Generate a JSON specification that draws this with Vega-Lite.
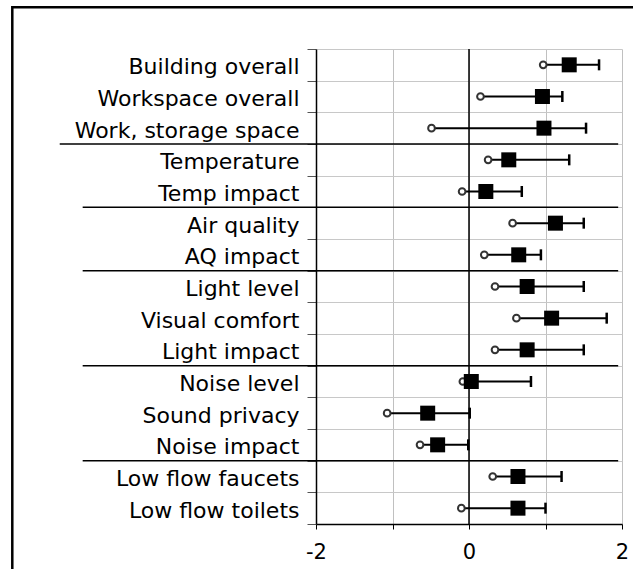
{
  "$schema": "https://vega.github.io/schema/vega-lite/v6.json",
  "width": 306,
  "height": 475,
  "autosize": {"type": "none"},
  "padding": {"left": 316, "top": 49, "right": 11, "bottom": 45},
  "background": "white",
  "config": {"view": {"stroke": null}, "font": "DejaVu Sans"},
  "datasets": {
    "items": [
      {"label": "Building overall", "min": 0.97, "mean": 1.31, "max": 1.70},
      {"label": "Workspace overall", "min": 0.15, "mean": 0.96, "max": 1.22},
      {"label": "Work, storage space", "min": -0.49, "mean": 0.98, "max": 1.53},
      {"label": "Temperature", "min": 0.25, "mean": 0.52, "max": 1.31},
      {"label": "Temp impact", "min": -0.09, "mean": 0.22, "max": 0.69},
      {"label": "Air quality", "min": 0.57, "mean": 1.13, "max": 1.50},
      {"label": "AQ impact", "min": 0.20, "mean": 0.65, "max": 0.94},
      {"label": "Light level", "min": 0.34, "mean": 0.76, "max": 1.50},
      {"label": "Visual comfort", "min": 0.62, "mean": 1.08, "max": 1.80},
      {"label": "Light impact", "min": 0.34, "mean": 0.76, "max": 1.50},
      {"label": "Noise level", "min": -0.08, "mean": 0.03, "max": 0.81},
      {"label": "Sound privacy", "min": -1.07, "mean": -0.54, "max": 0.01},
      {"label": "Noise impact", "min": -0.64, "mean": -0.41, "max": -0.01},
      {"label": "Low flow faucets", "min": 0.31, "mean": 0.64, "max": 1.21},
      {"label": "Low flow toilets", "min": -0.10, "mean": 0.64, "max": 1.00}
    ],
    "sepFirst": [{"label": "Work, storage space"}],
    "seps": [{"label": "Temp impact"}, {"label": "AQ impact"}, {"label": "Light impact"}, {"label": "Noise impact"}]
  },
  "resolve": {"scale": {"y": "independent"}},
  "layer": [
    {
      "data": {"values": [{}]},
      "mark": {"type": "rect", "filled": false, "stroke": "black", "strokeWidth": 2.5},
      "encoding": {
        "x": {"datum": -5.97, "type": "quantitative", "scale": {"domain": [-2, 2]}},
        "x2": {"datum": 6},
        "y": {"datum": 1.088, "type": "quantitative", "scale": {"domain": [0, 1]}, "axis": null},
        "y2": {"datum": -0.3}
      }
    },
    {
      "encoding": {
        "y": {
          "field": "label",
          "type": "nominal",
          "scale": {
            "domain": ["Building overall", "Workspace overall", "Work, storage space", "Temperature", "Temp impact", "Air quality", "AQ impact", "Light level", "Visual comfort", "Light impact", "Noise level", "Sound privacy", "Noise impact", "Low flow faucets", "Low flow toilets"],
            "paddingInner": 0,
            "paddingOuter": 0
          },
          "axis": {
            "title": null,
            "tickBand": "extent",
            "grid": true,
            "gridColor": "#c8c8c8",
            "tickSize": 9,
            "tickColor": "#555555",
            "labelFontSize": 22,
            "labelLimit": 0,
            "labelColor": "black",
            "labelPadding": 8,
            "labelOffset": 2,
            "domainColor": "black",
            "domainWidth": 1.5
          }
        }
      },
      "layer": [
        {
          "data": {"name": "items"},
          "mark": {"type": "rule", "color": "black", "strokeWidth": 2},
          "encoding": {
            "x": {
              "field": "min",
              "type": "quantitative",
              "scale": {"domain": [-2, 2]},
              "axis": {
                "title": null,
                "values": [-2, -1.5, -1, -0.5, 0, 0.5, 1, 1.5, 2],
                "labelExpr": "datum.value % 2 == 0 ? toString(datum.value) : ''",
                "grid": true,
                "gridColor": "#c0c0c0",
                "tickSize": 5,
                "tickColor": "black",
                "domainColor": "black",
                "domainWidth": 1.5,
                "labelFontSize": 21,
                "labelColor": "black",
                "labelPadding": 12,
                "labelFlush": false
              }
            },
            "x2": {"field": "max"}
          }
        },
        {
          "data": {"name": "sepFirst"},
          "mark": {"type": "rule", "color": "black", "strokeWidth": 1.5},
          "encoding": {
            "x": {"datum": -5.35, "type": "quantitative"},
            "x2": {"datum": 1.95},
            "y": {"field": "label", "type": "nominal", "bandPosition": 1}
          }
        },
        {
          "data": {"name": "seps"},
          "mark": {"type": "rule", "color": "black", "strokeWidth": 1.5},
          "encoding": {
            "x": {"datum": -5.05, "type": "quantitative"},
            "x2": {"datum": 1.95},
            "y": {"field": "label", "type": "nominal", "bandPosition": 1}
          }
        },
        {
          "data": {"values": [{}]},
          "mark": {"type": "rule", "color": "black", "strokeWidth": 1.5},
          "encoding": {
            "x": {"datum": 0, "type": "quantitative"},
            "y": null
          }
        },
        {
          "data": {"name": "items"},
          "mark": {"type": "tick", "color": "black", "size": 11, "thickness": 2.5, "orient": "vertical", "opacity": 1},
          "encoding": {
            "x": {"field": "max", "type": "quantitative"}
          }
        },
        {
          "data": {"name": "items"},
          "mark": {"type": "point", "shape": "circle", "filled": true, "fill": "white", "stroke": "#333333", "strokeWidth": 2, "size": 45, "opacity": 1},
          "encoding": {
            "x": {"field": "min", "type": "quantitative"}
          }
        },
        {
          "data": {"name": "items"},
          "mark": {"type": "point", "shape": "square", "filled": true, "color": "black", "size": 225, "opacity": 1},
          "encoding": {
            "x": {"field": "mean", "type": "quantitative"}
          }
        }
      ]
    }
  ]
}
